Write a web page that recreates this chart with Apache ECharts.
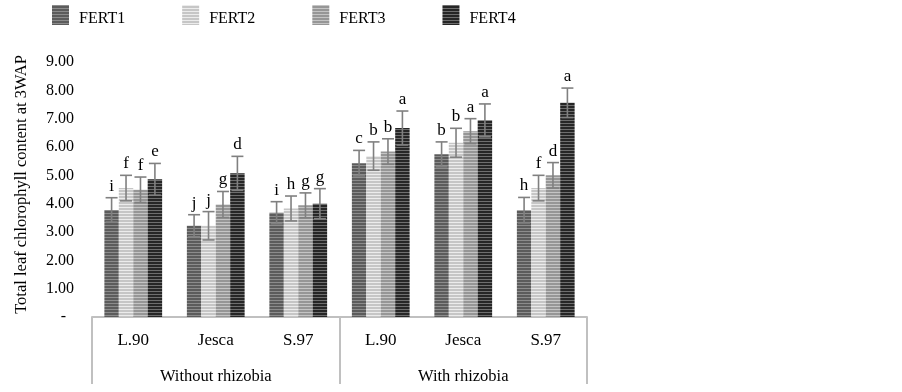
<!DOCTYPE html>
<html><head><meta charset="utf-8">
<script src="https://cdn.jsdelivr.net/npm/echarts@6/dist/echarts.min.js"></script>
<style>html,body{margin:0;padding:0;background:#fff}#c{width:902px;height:392px}</style>
</head><body><div id="c"></div>
<script>
var categories = ['L.90','Jesca','S.97','L.90','Jesca','S.97'];
var groups = ['Without rhizobia','With rhizobia'];
var seriesNames = ['FERT1','FERT2','FERT3','FERT4'];
var fert1 = [3.78, 3.22, 3.68, 5.43, 5.74, 3.77];
var fert2 = [4.55, 3.22, 3.83, 5.68, 6.15, 4.55];
var fert3 = [4.49, 3.97, 3.94, 5.84, 6.56, 5.00];
var fert4 = [4.86, 5.07, 4.00, 6.67, 6.94, 7.56];
var err1 = [0.43, 0.39, 0.39, 0.45, 0.44, 0.45];
var err2 = [0.45, 0.50, 0.44, 0.50, 0.51, 0.45];
var err3 = [0.45, 0.46, 0.44, 0.45, 0.44, 0.45];
var err4 = [0.56, 0.60, 0.53, 0.60, 0.58, 0.52];
var let1 = ['i','j','i','c','b','h'];
var let2 = ['f','j','h','b','b','f'];
var let3 = ['f','g','g','b','a','d'];
var let4 = ['e','d','g','a','a','a'];
var yTicks = [0,1,2,3,4,5,6,7,8,9];

var values = [fert1, fert2, fert3, fert4];
var errs = [err1, err2, err3, err4];
var letters = [let1, let2, let3, let4];
var stripeColors = [['#8c8c8c','#5c5c5c'],['#ececec','#c6c6c6'],['#c4c4c4','#969696'],['#6e6e6e','#262626']];

function pattern(c){
  var cv = document.createElement('canvas');
  cv.width = 4; cv.height = 3;
  var ctx = cv.getContext('2d');
  ctx.fillStyle = c[1]; ctx.fillRect(0,0,4,3);
  ctx.fillStyle = c[0]; ctx.fillRect(0,0,4,1);
  return {image: cv, repeat: 'repeat'};
}

var FONT = 'Liberation Serif';
var chart = echarts.init(document.getElementById('c'));
var series = [];
seriesNames.forEach(function(n, i){
  series.push({
    name: n, type: 'bar', data: values[i], barGap: 0, barCategoryGap: '30%',
    itemStyle: {color: pattern(stripeColors[i])}
  });
});
seriesNames.forEach(function(n, i){
  series.push({
    type: 'custom', name: n + '_err', silent: true, z: 5,
    data: values[i].map(function(v, k){ return [k, v, errs[i][k]]; }),
    renderItem: function(params, api){
      var k = api.value(0), v = api.value(1), e = api.value(2);
      var band = api.size([1,0])[0];
      var gw = band * 0.7, bw = gw / 4;
      var off = -gw/2 + bw*(i+0.5);
      var c = api.coord([k, v]);
      var x = c[0] + off;
      var yt = api.coord([k, v+e])[1], yb = api.coord([k, v-e])[1];
      var cw = 6;
      var st = {stroke: '#808080', lineWidth: 1.6};
      return {type: 'group', children: [
        {type: 'line', shape: {x1: x, y1: yt, x2: x, y2: yb}, style: st},
        {type: 'line', shape: {x1: x-cw, y1: yt, x2: x+cw, y2: yt}, style: st},
        {type: 'line', shape: {x1: x-cw, y1: yb, x2: x+cw, y2: yb}, style: st},
        {type: 'text', x: x, y: yt - 3, style: {text: letters[i][k], fill: '#000', font: '17px "Liberation Serif"', textAlign: 'center', textVerticalAlign: 'bottom'}}
      ]};
    }
  });
});

chart.setOption({
  animation: false,
  textStyle: {fontFamily: FONT},
  legend: {
    data: seriesNames, top: 5, left: 52, padding: 0, itemWidth: 17, itemHeight: 20, itemGap: 57,
    icon: 'rect',
    formatter: '{t|{name}}',
    textStyle: {fontFamily: FONT, fontSize: 16, color: '#000',
      rich: {t: {fontFamily: FONT, fontSize: 16, color: '#000', padding: [8,0,0,5]}}}
  },
  grid: {left: 92, right: 315, top: 62, bottom: 75},
  xAxis: [
    {type: 'category', data: categories, position: 'bottom',
     axisLine: {show: true, lineStyle: {color: '#c0c0c0', width: 2}},
     axisTick: {show: false},
     axisLabel: {fontFamily: FONT, fontSize: 17, color: '#000', margin: 15}},
    {type: 'category', data: groups, position: 'bottom', gridIndex: 0,
     axisLine: {show: false},
     axisTick: {show: true, length: 67, lineStyle: {color: '#c0c0c0', width: 2}},
     axisLabel: {fontFamily: FONT, fontSize: 16.5, color: '#000', margin: 51}}
  ],
  yAxis: {
    type: 'value', min: 0, max: 9, interval: 1,
    name: 'Total leaf chlorophyll content at 3WAP', nameLocation: 'middle', nameGap: 62,
    nameTextStyle: {fontFamily: FONT, fontSize: 16.5, color: '#000', padding: [0,0,0,10]},
    axisLine: {show: false}, axisTick: {show: false}, splitLine: {show: false},
    axisLabel: {fontFamily: FONT, fontSize: 16, color: '#000', margin: 18,
      formatter: function(v){ return v === 0 ? '-  ' : v.toFixed(2); }}
  },
  series: series
});
</script></body></html>
